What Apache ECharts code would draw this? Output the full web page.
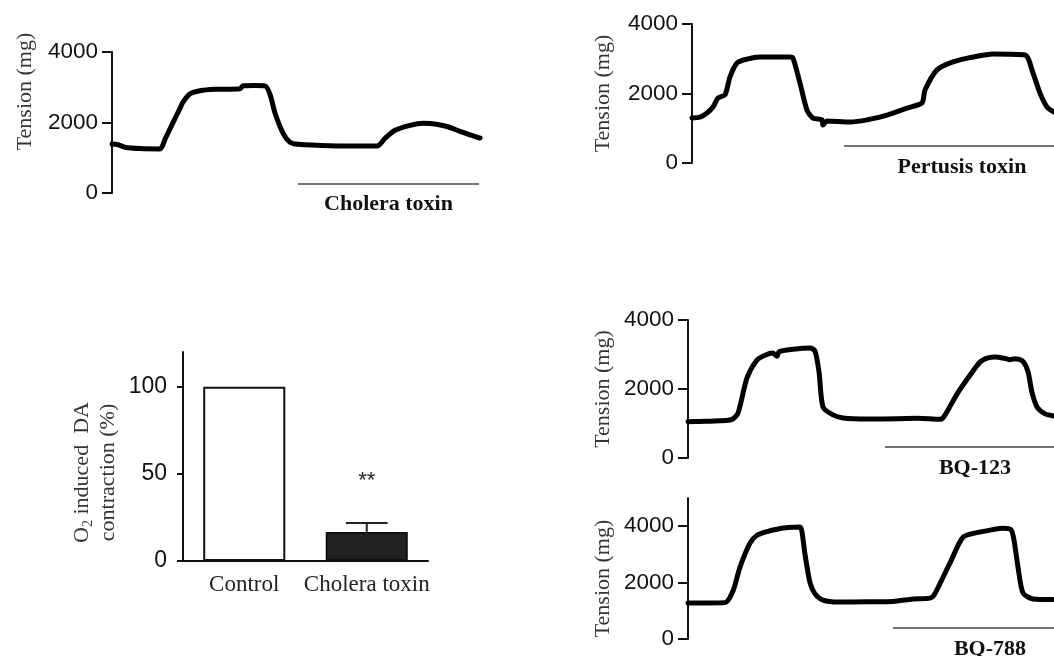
<!DOCTYPE html>
<html><head><meta charset="utf-8">
<script src="https://cdn.jsdelivr.net/npm/echarts@6/dist/echarts.min.js"></script>
<style>html,body{margin:0;padding:0;background:#fff;overflow:hidden}#c{width:1120px;height:656px}</style>
</head><body><div id="c"></div>
<script>
// ---- Data ----
// Panel A: cholera toxin trace (time units, tension mg)
const choleraTime = [0,6,13,28,48,53,60,68,71,78,88,103,128,131,143,153,158,163,171,178,186,208,238,258,266,273,283,298,311,323,336,348,358,368];
const choleraTension = [1390,1370,1300,1260,1250,1520,1940,2400,2580,2810,2900,2940,2960,3040,3050,3040,2800,2270,1700,1440,1380,1350,1330,1330,1340,1550,1780,1920,1980,1960,1880,1750,1650,1560];
const choleraPeriod = [186, 367];

// Panel B: pertussis toxin trace
const pertusisTime = [0,8,15,21,26,33,38,45,55,68,98,101,108,115,121,130,131,135,158,175,195,215,230,233,245,261,281,301,333,341,348,355,362,370];
const pertusisTension = [1295,1320,1440,1610,1870,1960,2480,2880,2990,3050,3050,3020,2300,1520,1290,1240,1090,1210,1180,1240,1380,1580,1730,2100,2680,2910,3050,3140,3110,2590,2010,1610,1470,1400];
const pertusisPeriod = [152, 388];

// Panel D: BQ-123 trace
const bq123Time = [0,12,32,44,50,59,69,77,85,89,91,105,122,127,131,135,145,155,180,210,230,252,256,270,282,292,300,307,318,322,327,335,340,344,349,357,366];
const bq123Tension = [1050,1060,1080,1120,1300,2320,2840,2980,3040,2950,3080,3150,3190,3100,2500,1480,1250,1160,1130,1140,1150,1120,1200,1900,2400,2780,2900,2930,2880,2850,2880,2800,2500,1900,1480,1280,1220];
const bq123Period = [197, 377];

// Panel E: BQ-788 trace
const bq788Time = [0,20,37,45,52,62,69,80,89,100,112,114,117,122,127,135,150,180,205,225,242,246,262,275,290,302,315,323,326,330,335,345,365];
const bq788Tension = [1280,1280,1290,1700,2550,3400,3680,3820,3890,3950,3970,3800,3000,2000,1600,1380,1310,1320,1330,1420,1450,1550,2700,3610,3780,3860,3930,3880,3500,2550,1630,1420,1400];
const bq788Period = [205, 399];

// Panel C: bar chart
const barCategories = ['Control', 'Cholera toxin'];
const barMeans = [100, 16.7];
const barErrors = [0, 5.1];
const barSignif = ['', '**'];

const tensionTicks = [0, 2000, 4000];
const percentTicks = [0, 50, 100];

// ---- Styles ----
const SANS = 'Liberation Sans';
const SERIF = 'Liberation Serif';

function traceY(gridIndex, max, gap, pad) {
  return {
    type: 'value', gridIndex, min: 0, max,
    name: 'Tension (mg)', nameLocation: 'middle', nameGap: gap, nameRotate: 90,
    nameTextStyle: { fontFamily: SERIF, fontSize: 22, color: '#333', padding: pad },
    axisLine: { show: true, lineStyle: { color: '#111', width: 2 } },
    axisTick: { show: true, length: 10, lineStyle: { color: '#111', width: 2 }, customValues: tensionTicks },
    axisLabel: { fontFamily: SANS, fontSize: 22.5, color: '#111', margin: 14, customValues: tensionTicks, formatter: v => String(v) },
    splitLine: { show: false }
  };
}
function traceX(gridIndex, max) {
  return { type: 'value', gridIndex, min: 0, max, show: false, splitLine: { show: false } };
}
function pairs(t, v) { return t.map((x, i) => [x, v[i]]); }
function traceSeries(idx, t, v, period, level, label) {
  return {
    type: 'line', xAxisIndex: idx, yAxisIndex: idx,
    data: pairs(t, v), showSymbol: false, smooth: 0.25,
    lineStyle: { color: '#000', width: 5, cap: 'round', join: 'round' },
    silent: true,
    markLine: {
      silent: true, symbol: 'none',
      lineStyle: { color: '#444', width: 1.5, type: 'solid' },
      label: {
        show: true, position: 'insideMiddleBottom', distance: 10,
        formatter: label, fontFamily: SERIF, fontWeight: 'bold', fontSize: 22, color: '#111'
      },
      data: [[{ coord: [period[0], level] }, { coord: [period[1], level] }]]
    }
  };
}

const option = {
  backgroundColor: '#fff',
  animation: false,
  grid: [
    { left: 112, top: 52, width: 368, height: 141 },
    { left: 692, top: 24, width: 400, height: 139 },
    { left: 183, top: 352, width: 245, height: 209 },
    { left: 688, top: 320, width: 400, height: 138 },
    { left: 688, top: 498, width: 400, height: 141 }
  ],
  xAxis: [
    traceX(0, 368),
    traceX(1, 400),
    {
      type: 'category', gridIndex: 2, data: barCategories,
      axisLine: { lineStyle: { color: '#111', width: 2 } },
      axisTick: { alignWithLabel: true, length: 5, lineStyle: { color: '#111', width: 2 } },
      axisLabel: { fontFamily: SERIF, fontSize: 23, color: '#222', margin: 12, interval: 0 }
    },
    traceX(3, 400),
    traceX(4, 400)
  ],
  yAxis: [
    traceY(0, 4000, 76, [0, 0, 0, 62]),
    traceY(1, 4000, 78, 0),
    {
      type: 'value', gridIndex: 2, min: 0, max: 120,
      name: '{t|O}{s|2}{t| induced  DA}\n{t|contraction (%)}',
      nameLocation: 'middle', nameGap: 62, nameRotate: 90,
      nameTextStyle: {
        fontFamily: SERIF, fontSize: 22, color: '#333', padding: [0, 32, 0, 0], lineHeight: 26,
        rich: {
          t: { fontFamily: SERIF, fontSize: 22, color: '#333', lineHeight: 26 },
          s: { fontFamily: SERIF, fontSize: 14, color: '#333', verticalAlign: 'bottom', lineHeight: 20 }
        }
      },
      axisLine: { show: true, lineStyle: { color: '#111', width: 2 } },
      axisTick: { show: true, length: 6, lineStyle: { color: '#111', width: 2 }, customValues: percentTicks },
      axisLabel: { fontFamily: SANS, fontSize: 23, color: '#111', margin: 16, customValues: percentTicks },
      splitLine: { show: false }
    },
    traceY(3, 4000, 74, 0),
    traceY(4, 5000, 74, [0, 20, 0, 0])
  ],
  series: [
    traceSeries(0, choleraTime, choleraTension, choleraPeriod, 268, 'Cholera toxin'),
    traceSeries(1, pertusisTime, pertusisTension, pertusisPeriod, 490, 'Pertusis toxin'),
    traceSeries(3, bq123Time, bq123Tension, bq123Period, 320, 'BQ-123'),
    traceSeries(4, bq788Time, bq788Tension, bq788Period, 390, 'BQ-788'),
    {
      type: 'bar', xAxisIndex: 2, yAxisIndex: 2, barWidth: '67%', silent: true,
      data: barMeans.map((v, i) => ({
        value: v,
        itemStyle: { color: i === 0 ? '#fff' : '#222', borderColor: '#111', borderWidth: 2 }
      }))
    },
    {
      type: 'custom', xAxisIndex: 2, yAxisIndex: 2, silent: true, z: 5,
      data: barMeans.map((v, i) => [i, v, barErrors[i]]),
      renderItem: function (params, api) {
        const i = api.value(0), m = api.value(1), e = api.value(2);
        const children = [];
        const pTop = api.coord([i, m + e]);
        if (e > 0) {
          const p0 = api.coord([i, m]);
          const half = api.size([1, 0])[0] * 0.17;
          children.push({ type: 'line', shape: { x1: p0[0], y1: p0[1], x2: pTop[0], y2: pTop[1] }, style: { stroke: '#222', lineWidth: 2 } });
          children.push({ type: 'line', shape: { x1: pTop[0] - half, y1: pTop[1], x2: pTop[0] + half, y2: pTop[1] }, style: { stroke: '#222', lineWidth: 2 } });
        }
        if (barSignif[i]) {
          children.push({ type: 'text', style: { text: barSignif[i], x: pTop[0], y: pTop[1] - 42, align: 'center', verticalAlign: 'middle', font: '22px "Liberation Sans"', fill: '#222' } });
        }
        return { type: 'group', children };
      }
    }
  ]
};
echarts.init(document.getElementById('c'), null, { renderer: 'canvas' }).setOption(option);
</script>
</body></html>
